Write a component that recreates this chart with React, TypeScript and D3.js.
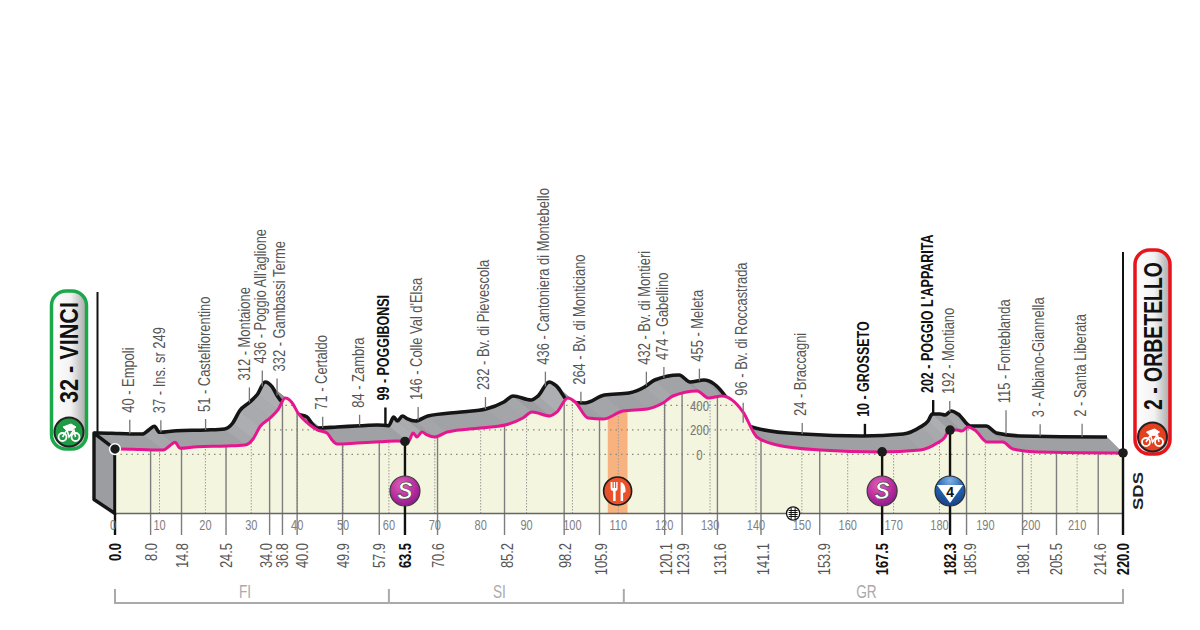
import React from "react";
import * as d3 from "d3";

// road profile: km, metres
const profileKm = [0, 1.1, 5.6, 10.8, 12.3, 13.4, 14.5, 18.2, 24.7, 28.6, 30.4, 31.9, 34.1, 35.8, 37.4, 38.9, 40.2, 42.8, 44.5, 46.5, 47.6, 48.7, 53, 58.1, 61.8, 64.2, 65.3, 66.1, 67.2, 68.3, 70, 72.7, 79.9, 85.3, 89.2, 91.2, 95.1, 96.6, 99, 100.6, 103.4, 106.7, 111, 116.3, 119.7, 121.9, 127.2, 129.6, 132.6, 137.2, 140.2, 144.6, 154, 167, 175.8, 179.5, 181.2, 182.1, 183.8, 184.9, 186.2, 187.7, 190.4, 193.8, 196, 201.3, 218.9, 220];
const profileElev = [43, 43, 39, 35, 72, 98, 49, 62, 68, 76, 125, 225, 296, 362, 460, 421, 337, 239, 198, 174, 117, 84, 92, 103, 109, 103, 174, 141, 182, 158, 141, 182, 215, 239, 296, 345, 313, 345, 460, 427, 296, 288, 353, 370, 419, 476, 517, 460, 476, 345, 141, 76, 35, 19, 35, 92, 141, 198, 198, 190, 223, 198, 100, 100, 43, 19, 11, 11];

const placeNames = ["40 - Empoli", "37 - Ins. sr 249", "51 - Castelfiorentino", "312 - Montaione", "436 - Poggio All'aglione", "332 - Gambassi Terme", "71 - Certaldo", "84 - Zambra", "99 - POGGIBONSI", "146 - Colle Val d'Elsa", "232 - Bv. di Pievescola", "436 - Cantoniera di Montebello", "264 - Bv. di Monticiano", "432 - Bv. di Montieri", "474 - Gabellino", "455 - Meleta", "96 - Bv. di Roccastrada", "24 - Braccagni", "10 - GROSSETO", "202 - POGGIO L'APPARITA", "192 - Montiano", "115 - Fonteblanda", "3 - Albiano-Giannella", "2 - Santa Liberata"];
const placeKm = [8, 14.8, 24.5, 34, 36.8, 40, 49.9, 57.9, 63.5, 70.6, 85.2, 98.2, 105.9, 120.1, 123.9, 131.6, 141.1, 153.9, 167.5, 182.3, 185.9, 198.1, 205.5, 214.6];
const boldKm = [0, 63.5, 167.5, 182.3, 220];
const boldPlaces = [63.5, 167.5, 182.3];
const kmTicks = d3.range(0, 220, 10);
const elevTicks = [0, 200, 400];
const zoneKm = [0, 60, 111.2, 220];
const zoneNames = ["FI", "SI", "GR"];
const feedZone = [107.7, 112];
const sprintKm = [63.5, 167.5];
const climbKm = 182.3;
const railKm = 148.1;

// layout only: how high each leader rises, and small nudges that stop labels touching
const leaderRise = [14, 12, 11, 15, 16, 17, 11, 11, 18, 13, 12, 15, 11, 14, 11, 12, 20, 11, 12, 14, 11, 24, 12, 13];
const placeNudge: Record<number, number> = { 34: -3, 40: 4, 182.3: -4 };
const kmNudge: Record<number, number> = { 34: -4, 40: 5, 85.2: 2, 98.2: 1, 105.9: 2, 120.1: 1, 123.9: 1, 131.6: 3, 141.1: 2, 153.9: 4, 185.9: 3, 214.6: 2 };

const sans = "'Liberation Sans', sans-serif";
const squeeze = 0.76; // no condensed face is installed, so squeeze the plain one
const squeezeBold = 0.735;
const baseY = 513.5;

const x = d3.scaleLinear().domain([0, 10, 220]).range([115, 159.5, 1123]);
const y = d3.scaleLinear().domain([0, 400]).range([454.3, 405.3]);
const depth = d3.scaleLinear().domain([0, 220]).range([-21, -16]);
const elevAt = d3.scaleLinear().domain(profileKm).range(profileElev);

const backX = (km: number) => x(km) + depth(km);
const backY = (km: number) => y(elevAt(km)) - 16;
const frontY = (km: number) => y(elevAt(km));

const curve = d3.curveMonotoneX;
const frontLine = d3.line<number>().x((k) => x(k)).y(frontY).curve(curve);
const backLine = d3.line<number>().x(backX).y(backY).curve(curve);
const frontArea = d3.area<number>().x((k) => x(k)).y0(baseY).y1(frontY).curve(curve);
const sideArea = d3.area<number>().x0(backX).y0(backY).x1((k) => x(k)).y1(frontY);
const facet = d3.interpolateRgb("#8b8c90", "#adaeb2");

function Bike({ cx, cy }: { cx: number; cy: number }) {
  return (
    <g transform={`translate(${cx},${cy})`} fill="none" stroke="#fff">
      <circle cx={-6.5} cy={4} r={4} strokeWidth={1.8} />
      <circle cx={6.5} cy={4} r={4} strokeWidth={1.8} />
      <path d="M-6.5 4 L-2 -3 L5 -3 L6.5 4 M-2 -3 L0 4 L5 -3" strokeWidth={1.6} />
      <path d="M-6 -6 L2 -9 L7 -6 L3 -3 L-3 -3 Z" fill="#fff" strokeWidth={1} />
    </g>
  );
}

function Badge(props: { left: number; top: number; w: number; h: number; color: string; id: string; text: string; textY: number; iconY: number; iconFill: string; len: number }) {
  const { left, top, w, h, color, id, text, textY, iconY, iconFill, len } = props;
  const cx = left + w / 2;
  return (
    <g>
      <defs>
        <linearGradient id={id} x1="0" x2="1" y1="0" y2="0">
          <stop offset="0" stopColor="#fff" />
          <stop offset="0.55" stopColor="#f2f2f2" />
          <stop offset="1" stopColor="#a8a8a8" />
        </linearGradient>
      </defs>
      <rect x={left} y={top} width={w} height={h} rx={w / 2 - 3} fill={`url(#${id})`} stroke={color} strokeWidth={3.5} />
      <text
        transform={`translate(${cx + 9},${textY}) rotate(-90)`}
        fontFamily={sans}
        fontWeight={700}
        fontSize={25}
        textLength={len}
        lengthAdjust="spacingAndGlyphs"
        fill="#111"
      >
        {text}
      </text>
      <circle cx={cx} cy={iconY} r={14.5} fill={iconFill} stroke="#222" strokeWidth={2} />
      <Bike cx={cx} cy={iconY + 1} />
    </g>
  );
}

function SprintIcon({ km }: { km: number }) {
  const cx = x(km);
  return (
    <g>
      <circle cx={cx} cy={491} r={15} fill="url(#sprint)" stroke="#3a3a3a" strokeWidth={1.2} />
      <text x={cx} y={499} textAnchor="middle" fontFamily={sans} fontWeight={700} fontStyle="italic" fontSize={23} fill="#fff" stroke="#222" strokeWidth={0.5}>
        S
      </text>
    </g>
  );
}

export default function App() {
  const kmSeries = profileKm;
  const segments = d3.pairs(kmSeries);

  return (
    <svg width={1200} height={630} style={{ position: "absolute", left: 0, top: 0, background: "#fff", display: "block" }}>
      <defs>
        <clipPath id="plain">
          <path d={frontArea(kmSeries) ?? ""} />
        </clipPath>
        <radialGradient id="sprint" cx="0.4" cy="0.3" r="0.8">
          <stop offset="0" stopColor="#e060b8" />
          <stop offset="0.6" stopColor="#b5289c" />
          <stop offset="1" stopColor="#7a1a86" />
        </radialGradient>
        <radialGradient id="climb" cx="0.5" cy="0.15" r="0.9">
          <stop offset="0" stopColor="#7fb2e6" />
          <stop offset="0.5" stopColor="#2560ad" />
          <stop offset="1" stopColor="#163f80" />
        </radialGradient>
      </defs>

      {/* side wall of the profile */}
      <path d={sideArea.curve(curve)(kmSeries) ?? ""} fill="#9c9da1" />
      {segments.map(([a, b]) => {
        const slope = (elevAt(b) - elevAt(a)) / (b - a);
        const t = Math.max(0, Math.min(1, 0.6 + slope / 120));
        return <path key={a} d={sideArea.curve(d3.curveLinear)([a, b]) ?? ""} fill={facet(t)} />;
      })}
      <path d={backLine(kmSeries) ?? ""} fill="none" stroke="#151515" strokeWidth={3.6} strokeLinejoin="round" />

      {/* starting block */}
      <path
        d={`M${backX(0)} ${backY(0)} L${x(0)} ${frontY(0)} L${x(0)} ${baseY} L${backX(0)} ${baseY - 14} Z`}
        fill="#9c9da1"
        stroke="#151515"
        strokeWidth={3.4}
        strokeLinejoin="round"
      />

      {/* plain under the road */}
      <path d={frontArea(kmSeries) ?? ""} fill="#f4f5df" />
      <rect x={x(feedZone[0])} y={380} width={x(feedZone[1]) - x(feedZone[0])} height={baseY - 380} fill="#f8b27f" clipPath="url(#plain)" />

      <g clipPath="url(#plain)">
        {kmTicks.slice(1).map((k) => (
          <line key={k} x1={x(k)} x2={x(k)} y1={380} y2={baseY} stroke="#9a9a9a" strokeWidth={1} strokeDasharray="1.5 1.5" />
        ))}
        {elevTicks.map((e) => (
          <line key={e} x1={x(0)} x2={x(220)} y1={y(e)} y2={y(e)} stroke="#8a8a80" strokeWidth={1.3} strokeDasharray="1.5 4" />
        ))}
      </g>
      {elevTicks.map((e) => (
        <text key={e} transform={`translate(${x(127.7)},${y(e) + 5.5}) scale(${squeeze},1)`} textAnchor="middle" fontFamily={sans} fontSize={15} fill="#777">
          {e}
        </text>
      ))}

      {/* km ticks */}
      {placeKm.filter((k) => !boldKm.includes(k)).map((k) => (
        <line key={k} x1={x(k)} x2={x(k)} y1={frontY(k)} y2={535} stroke="#7d7d7d" strokeWidth={1.4} />
      ))}
      <line x1={x(0)} x2={x(220)} y1={baseY} y2={baseY} stroke="#666" strokeWidth={1.5} />
      {boldKm.map((k) => (
        <line key={k} x1={x(k)} x2={x(k)} y1={frontY(k)} y2={535} stroke="#111" strokeWidth={2.4} />
      ))}
      <path d={frontLine(kmSeries) ?? ""} fill="none" stroke="#e6168f" strokeWidth={3} strokeLinejoin="round" />

      {/* frame lines at both ends */}
      <line x1={97.5} x2={97.5} y1={292} y2={432} stroke="#111" strokeWidth={2} />
      <line x1={x(220)} x2={x(220)} y1={252} y2={452} stroke="#111" strokeWidth={2} />

      {/* place labels above the ridge */}
      {placeNames.map((name, i) => {
        const k = placeKm[i];
        const bold = boldPlaces.includes(k);
        const top = backY(k) - leaderRise[i];
        return (
          <g key={name}>
            <line x1={backX(k)} x2={backX(k)} y1={top} y2={backY(k)} stroke={bold ? "#111" : "#777"} strokeWidth={bold ? 2.4 : 1.3} />
            <text
              transform={`translate(${backX(k) + 4 + (placeNudge[k] ?? 0)},${top - 7}) rotate(-90) scale(${bold ? squeezeBold : squeeze},1)`}
              fontFamily={sans}
              fontWeight={bold ? 700 : 400}
              fontSize={17}
              fill={bold ? "#111" : "#555"}
            >
              {name}
            </text>
          </g>
        );
      })}

      {/* km labels */}
      {kmTicks.map((k) => (
        <text key={k} transform={`translate(${x(k) - (k === 0 ? 2 : 0)},529.5) scale(${squeeze},1)`} textAnchor="middle" fontFamily={sans} fontSize={14.5} fill="#808080">
          {k}
        </text>
      ))}
      {[0, ...placeKm, 220].map((k) => {
        const bold = boldKm.includes(k);
        return (
          <text
            key={k}
            transform={`translate(${x(k) + 6 + (kmNudge[k] ?? 0)},543) rotate(-90) scale(${squeeze},1)`}
            textAnchor="end"
            fontFamily={sans}
            fontWeight={bold ? 700 : 400}
            fontSize={17}
            fill={bold ? "#111" : "#555"}
          >
            {k.toFixed(1)}
          </text>
        );
      })}

      {/* dots on the road */}
      <circle cx={x(0)} cy={frontY(0)} r={5.4} fill="#1c1c1c" stroke="#fff" strokeWidth={1.5} />
      {boldKm.slice(1).map((k) => (
        <circle key={k} cx={x(k)} cy={frontY(k)} r={4.8} fill="#1c1c1c" />
      ))}

      {/* icons */}
      {sprintKm.map((k) => (
        <SprintIcon key={k} km={k} />
      ))}
      <g transform={`translate(${x(climbKm)},491)`}>
        <circle r={15} fill="url(#climb)" stroke="#2a2a2a" strokeWidth={1.2} />
        <path d="M-13 -6 L13 -6 L0 12 Z" fill="#fff" />
        <text y={6} textAnchor="middle" fontFamily={sans} fontWeight={700} fontSize={14} fill="#111">
          4
        </text>
      </g>
      <g transform={`translate(${x(d3.mean(feedZone) ?? 0)},491)`}>
        <circle r={14} fill="#e8512a" stroke="#1c1c1c" strokeWidth={1.6} />
        <path d="M-7 -9 V-3 Q-7 0 -4.5 0 V10 H-2 V0 Q0 0 0 -3 V-9 H-1.4 V-3 H-2.6 V-9 H-3.9 V-3 H-5.1 V-9 Z" fill="#fff" />
        <path d="M3 10 V-9 Q8 -8 8 1 L5.5 2 V10 Z" fill="#fff" />
      </g>
      <g transform={`translate(${x(railKm)},${baseY})`}>
        <circle r={6.6} fill="#fff" stroke="#111" strokeWidth={1.3} />
        <path d="M-2 -5.5 V5.5 M2 -5.5 V5.5 M-4.5 -3 H4.5 M-4.5 -1 H4.5 M-4.5 1 H4.5 M-4.5 3 H4.5" stroke="#111" strokeWidth={1} />
      </g>

      <text transform={`translate(1143,510) rotate(-90)`} fontFamily={sans} fontWeight={700} fontSize={15} textLength={38} lengthAdjust="spacingAndGlyphs" fill="#222">
        SDS
      </text>

      {/* province brackets */}
      <line x1={x(0)} x2={x(220)} y1={603} y2={603} stroke="#aaa" strokeWidth={2} />
      {zoneKm.map((k) => (
        <line key={k} x1={x(k)} x2={x(k)} y1={589} y2={604} stroke="#aaa" strokeWidth={2} />
      ))}
      {zoneNames.map((name, i) => (
        <text key={name} transform={`translate(${(x(zoneKm[i]) + x(zoneKm[i + 1])) / 2 - 7},598) scale(${squeeze},1)`} textAnchor="middle" fontFamily={sans} fontSize={18} fill="#aaa">
          {name}
        </text>
      ))}

      <Badge left={51.5} top={291} w={35} h={158} color="#1ba84a" id="startFill" text="32 - VINCI" textY={403} iconY={432} iconFill="#1f9a45" len={101} />
      <Badge left={1135} top={250} w={35} h={204} color="#e8141c" id="endFill" text="2 - ORBETELLO" textY={410} iconY={437} iconFill="#e2401f" len={148} />
    </svg>
  );
}
